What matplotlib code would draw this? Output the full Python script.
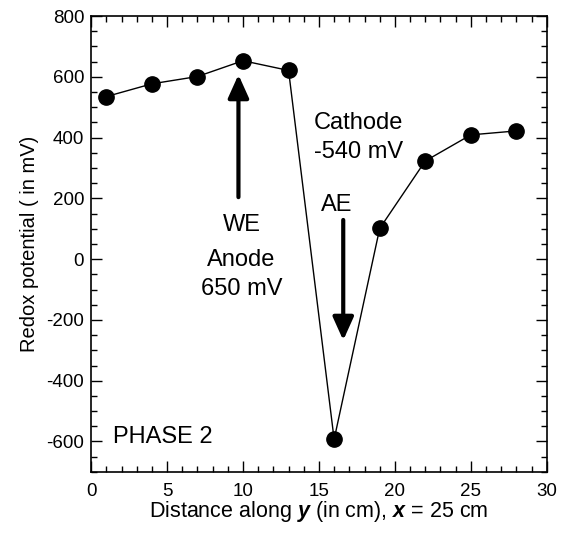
import numpy as np
import matplotlib
matplotlib.use('Agg')
import matplotlib.pyplot as plt
from matplotlib.ticker import MultipleLocator

plt.rcParams['font.family'] = ['Liberation Sans', 'DejaVu Sans']
plt.rcParams['mathtext.fontset'] = 'custom'
plt.rcParams['mathtext.bfit'] = 'Liberation Sans:bold:italic'
plt.rcParams['axes.unicode_minus'] = False

# distance along y (cm) and redox potential (mV)
dist = [1, 4, 7, 10, 13, 16, 19, 22, 25, 28]
redox = [535, 577, 601, 653, 621, -593, 101, 323, 409, 422]

fig = plt.figure(figsize=(5.66, 5.35), dpi=100)
ax = fig.add_axes([0.161, 0.118, 0.805, 0.852])

ax.plot(dist, redox, '-o', color='k', lw=1.0, ms=11)

arrow = dict(arrowstyle='-|>,head_length=1.0,head_width=0.45', lw=3,
             color='k', mutation_scale=14, shrinkA=0, shrinkB=0)
ax.annotate('', xy=(9.7, 607), xytext=(9.7, 204), arrowprops=arrow)
ax.annotate('', xy=(16.6, -267), xytext=(16.6, 129), arrowprops=arrow)

tk = dict(fontsize=17)
ax.text(9.9, 112, 'WE', ha='center', va='center', **tk)
ax.text(9.9, -3, 'Anode', ha='center', va='center', **tk)
ax.text(9.9, -99, '650 mV', ha='center', va='center', **tk)
ax.text(14.65, 448, 'Cathode', ha='left', va='center', **tk)
ax.text(14.65, 354, '-540 mV', ha='left', va='center', **tk)
ax.text(16.2, 178, 'AE', ha='center', va='center', **tk)
ax.text(1.45, -586, 'PHASE 2', ha='left', va='center', **tk)

ax.set_xlim(0, 30)
ax.set_ylim(-700, 800)
ax.xaxis.set_major_locator(MultipleLocator(5))
ax.xaxis.set_minor_locator(MultipleLocator(1))
ax.yaxis.set_major_locator(MultipleLocator(200))
ax.yaxis.set_minor_locator(MultipleLocator(50))
ax.tick_params(which='both', direction='in', top=True, right=True,
               labelsize=13.5, width=1.0)
ax.tick_params(which='major', length=8)
ax.tick_params(which='minor', length=4)
ax.tick_params(axis='x', pad=8)
ax.tick_params(axis='y', pad=5)
for s in ax.spines.values():
    s.set_linewidth(1.2)

ax.set_xlabel(r'Distance along $\boldsymbol{y}$ (in cm), $\boldsymbol{x}$ = 25 cm',
              fontsize=15.5, labelpad=-1)
ax.set_ylabel('Redox potential ( in mV)', fontsize=14.5, labelpad=5)

plt.savefig('out.png', dpi=100)
plt.close()
